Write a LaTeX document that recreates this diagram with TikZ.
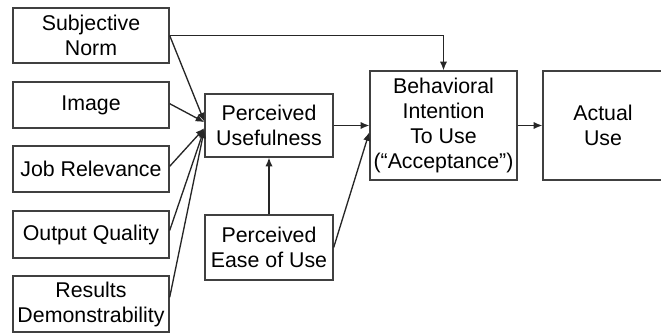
\documentclass[tikz,border=0pt]{standalone}
\usepackage{fontspec}
\setmainfont{Liberation Sans}
\usetikzlibrary{arrows.meta,calc}
\begin{document}
\begin{tikzpicture}[x=0.75pt,y=-0.75pt,
  box/.style={draw=black!75, line width=1pt, align=center, inner sep=0pt,
    font=\fontsize{16pt}{18.75pt}\selectfont},
  lbox/.style={box, minimum width=117pt},
  conn/.style={line width=1pt, draw=black!85},
  arr/.style={conn, -{Latex[length=6.5pt,width=5.5pt]}}]
\useasboundingbox (0,0) rectangle (661,333);
% left column
\node[lbox, minimum height=41.25pt] (SN) at (91,35.5) {Subjective\\Norm};
\node[lbox, minimum height=34.5pt] (IM) at (91,105) {Image};
\node[lbox, minimum height=34.5pt] (JR) at (91,169) {Job Relevance};
\node[lbox, minimum height=35.25pt] (OQ) at (91,234.5) {Output Quality};
\node[lbox, minimum height=42pt] (RD) at (91,304) {Results\\Demonstrability};
% middle
\node[box, minimum width=96pt, minimum height=47.25pt] (PU) at (269,125.5) {Perceived\\Usefulness};
\node[box, minimum width=96pt, minimum height=48.75pt] (PE) at (269,247.5) {Perceived\\Ease of Use};
% right
\node[box, minimum width=110.25pt, minimum height=81.75pt] (BI) at (443.5,125.5) {Behavioral\\Intention\\To Use\\(“Acceptance”)};
\node[box, minimum width=90pt, minimum height=81.75pt] (AU) at (603,125.5) {Actual\\Use};
% connectors
\draw[arr] (SN.east) -- ([yshift=3pt]PU.west);
\draw[arr] ([yshift=1pt]IM.east) -- ([yshift=2.5pt]PU.west);
\draw[arr] ([yshift=2pt]JR.east) -- ([yshift=-2pt]PU.west);
\draw[arr] ([yshift=3pt]OQ.east) -- ([yshift=-2.5pt]PU.west);
\draw[arr] ([yshift=5pt]RD.east) -- ([yshift=-3pt]PU.west);
\draw[arr] (PE.north) -- (PU.south);
\draw[arr] (PU.east) -- (PU.east -| BI.west);
\draw[arr] (PE.east) -- ([yshift=-5pt]BI.west);
\draw[arr] (BI.east) -- (AU.west);
\draw[arr] (SN.east) -- (SN.east -| BI.north) -- (BI.north);
\end{tikzpicture}
\end{document}
